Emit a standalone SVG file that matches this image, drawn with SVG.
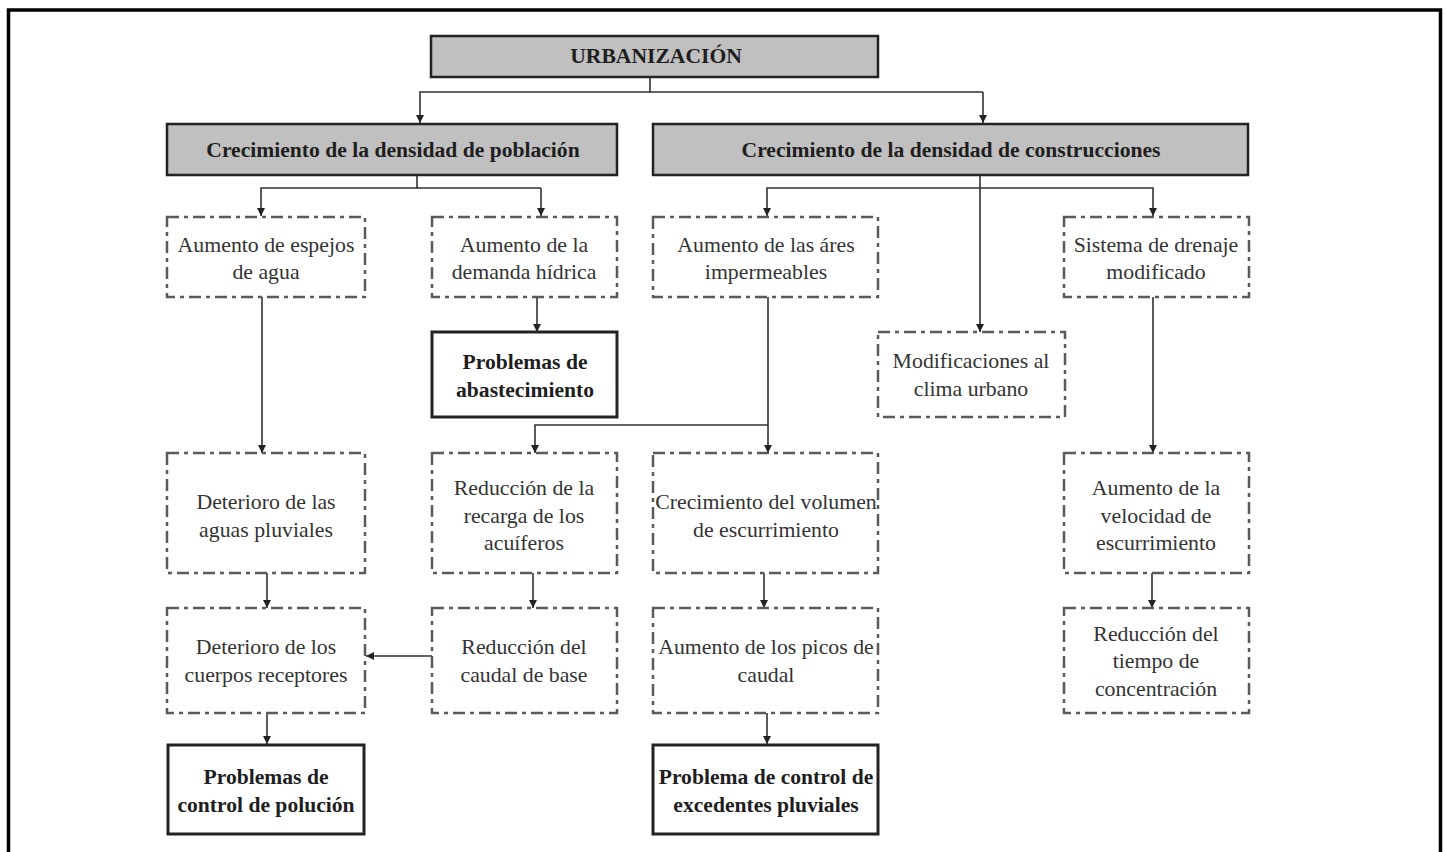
<svg xmlns="http://www.w3.org/2000/svg" width="1447" height="852" viewBox="0 0 1447 852">
<defs>
<marker id="ah" viewBox="0 0 10 10" refX="10" refY="5" markerWidth="9" markerHeight="8" markerUnits="userSpaceOnUse" orient="auto">
<path d="M0,0 L10,5 L0,10 z" fill="#222"/>
</marker>
<style>
.frame{fill:none;stroke:#000;stroke-width:3.5}
.gray{fill:#c0c0c0;stroke:#222;stroke-width:2.5}
.dash{fill:#fff;stroke:#5a5a5a;stroke-width:2.5;stroke-dasharray:12 5 4 5}
.solid{fill:#fff;stroke:#222;stroke-width:3}
.t{font-family:"Liberation Serif","Times New Roman",serif;font-size:21.8px;fill:#333;text-anchor:middle}
.b{font-family:"Liberation Serif","Times New Roman",serif;font-size:21.6px;font-weight:bold;fill:#1e1e1e;text-anchor:middle}
.c{fill:none;stroke:#333;stroke-width:1.6}
.ca{fill:none;stroke:#333;stroke-width:1.6;marker-end:url(#ah)}
</style>
</defs>
<rect width="1447" height="852" fill="#fff"/>
<path class="frame" d="M8.5,860 V10 H1440.5 V860"/>

<g id="connectors">
<path class="c" d="M650,77 V92 H983"/>
<path class="ca" d="M650,92 H420 V123"/>
<path class="ca" d="M983,92 V123"/>
<path class="c" d="M417,175 V188 H541"/>
<path class="ca" d="M417,188 H261 V216"/>
<path class="ca" d="M541,188 V216"/>
<path class="ca" d="M980,175 V332"/>
<path class="ca" d="M980,188 H767 V216"/>
<path class="ca" d="M980,188 H1153 V216"/>
<path class="ca" d="M262,297 V453"/>
<path class="ca" d="M537,297 V332"/>
<path class="ca" d="M768,297 V453"/>
<path class="ca" d="M768,425 H535 V453"/>
<path class="ca" d="M1153,297 V453"/>
<path class="ca" d="M267,573 V608"/>
<path class="ca" d="M533,573 V608"/>
<path class="ca" d="M764,573 V608"/>
<path class="ca" d="M1152,573 V608"/>
<path class="ca" d="M432,656 H366"/>
<path class="ca" d="M267,713 V744"/>
<path class="ca" d="M767,713 V744"/>
</g>

<g id="urbanizacion">
<rect class="gray" x="431" y="36" width="447" height="41"/>
<text class="b" x="656" y="63">URBANIZACIÓN</text>
</g>
<g id="poblacion">
<rect class="gray" x="167" y="124" width="450" height="51"/>
<text class="b" x="393" y="157">Crecimiento de la densidad de población</text>
</g>
<g id="construcciones">
<rect class="gray" x="653" y="124" width="595" height="51"/>
<text class="b" x="951" y="157">Crecimiento de la densidad de construcciones</text>
</g>

<g id="espejos">
<rect class="dash" x="167" y="217" width="198" height="80"/>
<text class="t" x="266" y="252">Aumento de espejos</text>
<text class="t" x="266" y="279">de agua</text>
</g>
<g id="demanda">
<rect class="dash" x="432" y="217" width="185" height="80"/>
<text class="t" x="524" y="252">Aumento de la</text>
<text class="t" x="524" y="279">demanda hídrica</text>
</g>
<g id="impermeables">
<rect class="dash" x="653" y="217" width="225" height="80"/>
<text class="t" x="766" y="252">Aumento de las áres</text>
<text class="t" x="766" y="279">impermeables</text>
</g>
<g id="drenaje">
<rect class="dash" x="1064" y="217" width="185" height="80"/>
<text class="t" x="1156" y="252">Sistema de drenaje</text>
<text class="t" x="1156" y="279">modificado</text>
</g>

<g id="abastecimiento">
<rect class="solid" x="432" y="332" width="185" height="85"/>
<text class="b" x="525" y="369">Problemas de</text>
<text class="b" x="525" y="397">abastecimiento</text>
</g>
<g id="clima">
<rect class="dash" x="878" y="332" width="187" height="85"/>
<text class="t" x="971" y="368">Modificaciones al</text>
<text class="t" x="971" y="396">clima urbano</text>
</g>

<g id="aguas">
<rect class="dash" x="167" y="453" width="198" height="120"/>
<text class="t" x="266" y="509">Deterioro de las</text>
<text class="t" x="266" y="537">aguas pluviales</text>
</g>
<g id="recarga">
<rect class="dash" x="432" y="453" width="185" height="120"/>
<text class="t" x="524" y="495">Reducción de la</text>
<text class="t" x="524" y="523">recarga de los</text>
<text class="t" x="524" y="550">acuíferos</text>
</g>
<g id="volumen">
<rect class="dash" x="653" y="453" width="225" height="120"/>
<text class="t" x="766" y="509">Crecimiento del volumen</text>
<text class="t" x="766" y="537">de escurrimiento</text>
</g>
<g id="velocidad">
<rect class="dash" x="1064" y="453" width="185" height="120"/>
<text class="t" x="1156" y="495">Aumento de la</text>
<text class="t" x="1156" y="523">velocidad de</text>
<text class="t" x="1156" y="550">escurrimiento</text>
</g>

<g id="cuerpos">
<rect class="dash" x="167" y="608" width="198" height="105"/>
<text class="t" x="266" y="654">Deterioro de los</text>
<text class="t" x="266" y="682">cuerpos receptores</text>
</g>
<g id="caudal-base">
<rect class="dash" x="432" y="608" width="185" height="105"/>
<text class="t" x="524" y="654">Reducción del</text>
<text class="t" x="524" y="682">caudal de base</text>
</g>
<g id="picos">
<rect class="dash" x="653" y="608" width="225" height="105"/>
<text class="t" x="766" y="654">Aumento de los picos de</text>
<text class="t" x="766" y="682">caudal</text>
</g>
<g id="tiempo">
<rect class="dash" x="1064" y="608" width="185" height="105"/>
<text class="t" x="1156" y="641">Reducción del</text>
<text class="t" x="1156" y="668">tiempo de</text>
<text class="t" x="1156" y="696">concentración</text>
</g>

<g id="polucion">
<rect class="solid" x="168" y="745" width="196" height="89"/>
<text class="b" x="266" y="784">Problemas de</text>
<text class="b" x="266" y="812">control de polución</text>
</g>
<g id="excedentes">
<rect class="solid" x="653" y="745" width="225" height="89"/>
<text class="b" x="766" y="784">Problema de control de</text>
<text class="b" x="766" y="812">excedentes pluviales</text>
</g>
</svg>
